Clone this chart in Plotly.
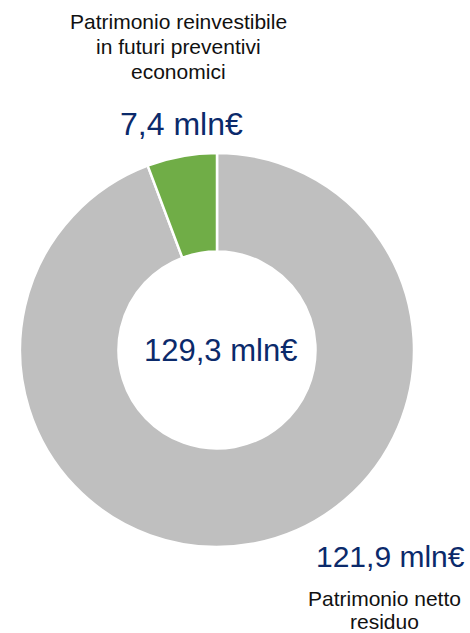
import plotly.graph_objects as go

labels = ["Patrimonio netto residuo", "Patrimonio reinvestibile in futuri preventivi economici"]
values = [121.9, 7.4]
total_label = "129,3 mln€"
value_labels = ["121,9 mln€", "7,4 mln€"]
label_lines_small = ["Patrimonio reinvestibile", "in futuri preventivi", "economici"]
label_lines_big = ["Patrimonio netto", "residuo"]
colors = ["#BFBFBF", "#70AD47"]

W, H = 470, 633
cx, cy, r = 217, 350, 197

def px(x):
    return x / W

def py(y):
    return 1 - y / H

fig = go.Figure(go.Pie(
    labels=labels,
    values=values,
    hole=0.5,
    sort=False,
    direction="clockwise",
    rotation=0,
    textinfo="none",
    hoverinfo="skip",
    marker=dict(colors=colors, line=dict(color="white", width=2.5)),
    domain=dict(x=[px(cx - r), px(cx + r)], y=[py(cy + r), py(cy - r)]),
    showlegend=False,
))

navy = "#0B2A6B"
dark = "#111111"
font = "Arial, Liberation Sans, sans-serif"
ann = []
for txt, yy in zip(label_lines_small, [22, 47, 72]):
    ann.append(dict(x=px(178), y=py(yy), text=txt, font=dict(size=21, color=dark, family=font)))
for txt, yy in zip(label_lines_big, [598, 621]):
    ann.append(dict(x=px(384), y=py(yy), text=txt, font=dict(size=21, color=dark, family=font)))
ann += [
    dict(x=px(181), y=py(124), text=value_labels[1], font=dict(size=32, color=navy, family=font)),
    dict(x=px(220), y=py(351), text=total_label, font=dict(size=31, color=navy, family=font)),
    dict(x=px(390), y=py(556), text=value_labels[0], font=dict(size=30, color=navy, family=font)),
]
for a in ann:
    a.update(xref="paper", yref="paper", showarrow=False, xanchor="center", yanchor="middle",
             align="center", borderpad=0)

fig.update_layout(
    width=W, height=H,
    margin=dict(l=0, r=0, t=0, b=0),
    paper_bgcolor="white",
    plot_bgcolor="white",
    annotations=ann,
)

fig.write_html("out.html", config={"displayModeBar": False},
               post_script="document.body.style.margin='0';document.body.style.overflow='hidden';")
